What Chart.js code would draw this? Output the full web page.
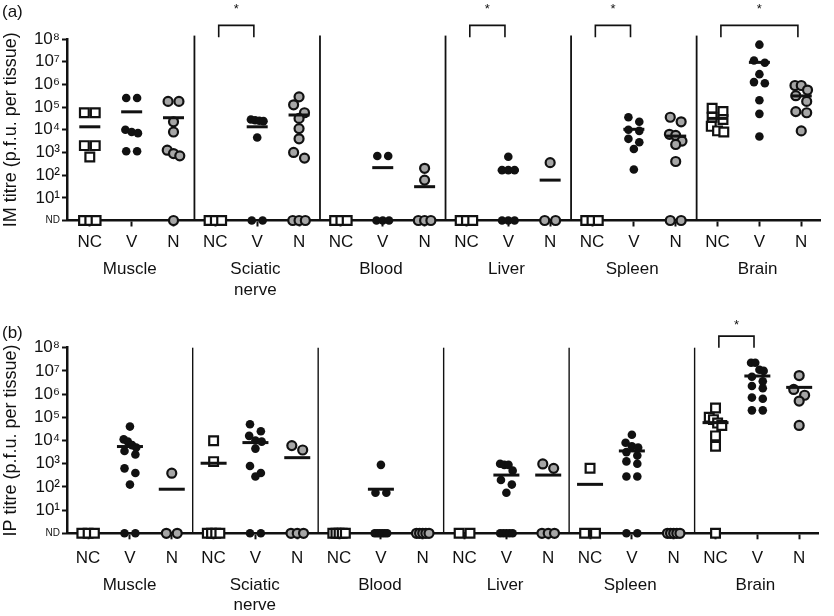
<!DOCTYPE html>
<html><head><meta charset="utf-8">
<script src="https://cdn.jsdelivr.net/npm/chart.js@4/dist/chart.umd.min.js"></script>
<style>
html,body{margin:0;padding:0;background:#fff;}
#wrap{position:relative;width:834px;height:616px;overflow:hidden;}
.panel{position:absolute;left:0;width:834px;}
</style></head><body>
<div id="wrap">
<div class="panel" style="top:0;height:302px"><canvas id="ca"></canvas></div>
<div class="panel" style="top:302px;height:314px"><canvas id="cb"></canvas></div>
</div>
<script>
// ---------- data (log10 titre; 0 = ND) ----------
const tissues = ['Muscle', ['Sciatic','nerve'], 'Blood', 'Liver', 'Spleen', 'Brain'];
const groups = ['NC', 'V', 'N'];
const yTickLabels = ['ND','10¹','10²','10³','10⁴','10⁵','10⁶','10⁷','10⁸'];

// (a) IM
const imNC = [
  [4.75, 4.75, 3.3, 3.3, 2.8, 0, 0, 0],
  [0, 0, 0],
  [0, 0, 0],
  [0, 0, 0],
  [0, 0, 0],
  [4.95, 4.8, 4.55, 4.45, 4.15, 3.95, 3.9]
];
const imV = [
  [5.4, 5.4, 4.0, 3.9, 3.85, 3.05, 3.05],
  [4.45, 4.42, 4.4, 4.38, 3.66, 0, 0],
  [2.84, 2.84, 0, 0, 0],
  [2.81, 2.22, 2.22, 2.22, 0, 0, 0],
  [4.55, 4.35, 4.0, 3.95, 3.6, 3.45, 3.15, 2.25],
  [7.75, 7.05, 6.95, 6.45, 6.1, 6.05, 5.3, 4.7, 3.7]
];
const imN = [
  [5.25, 5.25, 4.35, 3.9, 3.1, 2.95, 2.85, 0],
  [5.45, 5.1, 4.75, 4.5, 4.05, 3.6, 3.0, 2.75, 0, 0, 0],
  [2.3, 1.78, 0, 0, 0],
  [2.55, 0, 0],
  [4.55, 4.35, 3.8, 3.75, 3.5, 3.35, 2.6, 0, 0],
  [5.95, 5.95, 5.75, 5.5, 5.25, 4.8, 4.75, 3.95]
];
const imMeanNC = [4.13, null, null, null, null, 4.5];
const imMeanV  = [4.79, 4.13, 2.33, 2.22, 4.02, 6.97];
const imMeanN  = [4.53, 4.65, 1.49, 1.78, 3.72, 5.49];
const imSig = [[3, 4], [9, 10], [12, 13], [15, 17]];

// (b) IP
const ipNC = [
  [0, 0, 0],
  [3.99, 3.09, 0, 0, 0, 0],
  [0, 0, 0, 0, 0],
  [0, 0],
  [2.8, 0, 0],
  [5.4, 5.0, 4.9, 4.75, 4.65, 4.2, 3.75, 0]
];
const ipV = [
  [4.6, 4.05, 3.95, 3.8, 3.7, 3.55, 3.4, 2.8, 2.6, 2.1, 0, 0],
  [4.7, 4.4, 4.2, 4.0, 3.95, 3.65, 2.9, 2.6, 2.45, 0, 0],
  [2.95, 1.75, 1.75, 0, 0, 0, 0, 0, 0],
  [3.0, 2.95, 2.95, 2.7, 2.3, 2.1, 1.75, 0, 0, 0, 0, 0],
  [4.25, 3.9, 3.75, 3.7, 3.5, 3.35, 3.1, 3.0, 2.45, 2.45, 0, 0],
  [7.35, 7.35, 7.05, 7.0, 6.75, 6.55, 6.35, 6.25, 5.85, 5.8, 5.3, 5.3]
];
const ipN = [
  [2.59, 0, 0],
  [3.78, 3.59, 0, 0, 0],
  [0, 0, 0, 0, 0],
  [2.99, 2.8, 0, 0, 0],
  [0, 0, 0, 0, 0],
  [6.8, 6.2, 5.95, 5.7, 4.65]
];
const ipMeanNC = [null, 3.02, null, null, 2.11, 4.77];
const ipMeanV  = [3.74, 3.91, 1.9, 2.51, 3.55, 6.78];
const ipMeanN  = [1.9, 3.26, null, 2.51, null, 6.29];
const ipSig = [[15, 16]];

// ---------- helpers ----------
const FONT = '"Liberation Sans", Arial, Helvetica, sans-serif';
const INK = '#111';

function swarm(vals, center) {
  const s = [...vals].sort((a, b) => b - a);
  const bins = [];
  for (const v of s) {
    const last = bins[bins.length - 1];
    if (last && last[0] - v <= 0.35) last.push(v); else bins.push([v]);
  }
  const pts = [];
  for (const b of bins) {
    const n = b.length;
    const d = n > 1 ? Math.min(0.26, 0.3 / (n - 1)) : 0;
    b.forEach((v, i) => pts.push({ x: center + (i - (n - 1) / 2) * d, y: v }));
  }
  return pts;
}
function groupPoints(arr, g) {
  let out = [];
  arr.forEach((vals, t) => { out = out.concat(swarm(vals, t * 3 + g)); });
  return out;
}
function meanPoints(mNC, mV, mN) {
  const out = [];
  [mNC, mV, mN].forEach((arr, g) => {
    arr.forEach((v, t) => { if (v !== null) out.push({ x: t * 3 + g, y: v }); });
  });
  return out;
}

const deco = {
  id: 'deco',
  afterDatasetsDraw(chart, args, o) {
    const { ctx, scales: { x, y } } = chart;
    ctx.save();
    ctx.strokeStyle = INK;
    ctx.lineWidth = o.sepWidth;
    for (let k = 1; k < tissues.length; k++) {
      const px = x.getPixelForValue(3 * k - 0.5);
      ctx.beginPath();
      ctx.moveTo(px, y.getPixelForValue(0));
      ctx.lineTo(px, y.getPixelForValue(o.sepTop));
      ctx.stroke();
    }
    ctx.lineWidth = 1.6;
    ctx.fillStyle = INK;
    for (const [a, b] of o.sig) {
      const x1 = x.getPixelForValue(a + 0.08), x2 = x.getPixelForValue(b - 0.08);
      const yt = y.getPixelForValue(o.brTop), yb = y.getPixelForValue(o.brLeg);
      ctx.beginPath();
      ctx.moveTo(x1, yb); ctx.lineTo(x1, yt); ctx.lineTo(x2, yt); ctx.lineTo(x2, yb);
      ctx.stroke();
      ctx.font = '13px ' + FONT;
      ctx.textAlign = 'center';
      ctx.textBaseline = 'middle';
      ctx.fillText('*', (x1 + x2) / 2, y.getPixelForValue(o.star));
    }
    ctx.font = '17px ' + FONT;
    ctx.textAlign = 'left';
    ctx.textBaseline = 'middle';
    ctx.fillText(o.label, 2, o.labelY);
    ctx.restore();
  }
};

function makeChart(id, cfg) {
  const datasets = [
    { label: 'mean', data: meanPoints(cfg.meanNC, cfg.meanV, cfg.meanN),
      pointStyle: 'line', pointRadius: cfg.meanR, borderColor: INK, borderWidth: 3, backgroundColor: INK },
    { label: 'NC', data: groupPoints(cfg.nc, 0), pointStyle: 'rect', pointRadius: 6.2,
      backgroundColor: '#ffffff', borderColor: INK, borderWidth: 2.2 },
    { label: 'V', data: groupPoints(cfg.v, 1), pointStyle: 'circle', pointRadius: 4.3,
      backgroundColor: INK, borderColor: INK, borderWidth: 0 },
    { label: 'N', data: groupPoints(cfg.n, 2), pointStyle: 'circle', pointRadius: 4.5,
      backgroundColor: '#a6a6a6', borderColor: INK, borderWidth: 2.2 }
  ];
  datasets.forEach(d => { d.xAxisID = 'x'; d.yAxisID = 'y'; d.showLine = false; d.clip = false; d.pointHoverRadius = d.pointRadius; });
  return new Chart(document.getElementById(id), {
    type: 'scatter',
    data: { datasets },
    plugins: [deco],
    options: {
      responsive: true,
      maintainAspectRatio: false,
      animation: false,
      events: [],
      layout: { padding: { top: cfg.padTop, right: cfg.padRight, bottom: 0, left: 0 } },
      plugins: {
        legend: { display: false },
        tooltip: { enabled: false },
        deco: cfg.deco
      },
      scales: {
        x: {
          type: 'linear', position: 'bottom', weight: 0,
          min: cfg.xMin, max: cfg.xMax,
          afterBuildTicks: s => { s.ticks = Array.from({ length: 18 }, (_, i) => ({ value: i })); },
          ticks: { callback: v => groups[v % 3], font: { family: FONT, size: 17 }, color: INK,
                   padding: cfg.catPad, maxRotation: 0, autoSkip: false },
          grid: { drawOnChartArea: false, drawTicks: true, tickLength: 6, tickWidth: 2, tickColor: INK },
          border: { display: true, color: INK, width: 2.5 },
          afterFit: s => { s.height = 36; }
        },
        x2: {
          type: 'category', axis: 'x', position: 'bottom', weight: 1,
          labels: tissues, offset: true,
          ticks: { font: { family: FONT, size: 17 }, color: INK, padding: cfg.grpPad, maxRotation: 0, autoSkip: false },
          grid: { display: false, drawTicks: false },
          border: { display: false },
          afterFit: s => { s.height = cfg.grpH; }
        },
        y: {
          type: 'linear', position: 'left', min: 0, max: 8,
          afterBuildTicks: s => { s.ticks = Array.from({ length: 9 }, (_, i) => ({ value: i })); },
          ticks: {
            callback: v => yTickLabels[v],
            autoSkip: false,
            font: c => (c.tick && c.tick.value === 0) ? { family: FONT, size: 10 } : { family: FONT, size: 17 },
            color: INK, padding: 2
          },
          grid: { drawOnChartArea: false, drawTicks: true, tickLength: 5, tickWidth: 2, tickColor: INK },
          border: { display: true, color: INK, width: 2.5 },
          title: { display: true, text: cfg.yTitle, font: { family: FONT, size: 18 }, color: INK, padding: 0 },
          afterFit: s => { s.width = 67; }
        }
      }
    }
  });
}

makeChart('ca', {
  nc: imNC, v: imV, n: imN, meanNC: imMeanNC, meanV: imMeanV, meanN: imMeanN,
  meanR: 10.5, padTop: 39, padRight: 7, xMin: -0.545, xMax: 17.46,
  catPad: 6, grpPad: 3, grpH: 45.5,
  yTitle: 'IM titre (p.f.u. per tissue)',
  deco: { sig: imSig, sepTop: 8.15, sepWidth: 1.8, brTop: 8.6, brLeg: 8.08, star: 9.3, label: '(a)', labelY: 12 }
});
makeChart('cb', {
  nc: ipNC, v: ipV, n: ipN, meanNC: ipMeanNC, meanV: ipMeanV, meanN: ipMeanN,
  meanR: 13, padTop: 45.7, padRight: 2, xMin: -0.505, xMax: 17.45,
  catPad: 8.5, grpPad: 5.5, grpH: 46.7,
  yTitle: 'IP titre (p.f.u. per tissue)',
  deco: { sig: ipSig, sepTop: 8.0, sepWidth: 1.4, brTop: 8.5, brLeg: 8.0, star: 8.95, label: '(b)', labelY: 31 }
});
</script>
</body></html>
